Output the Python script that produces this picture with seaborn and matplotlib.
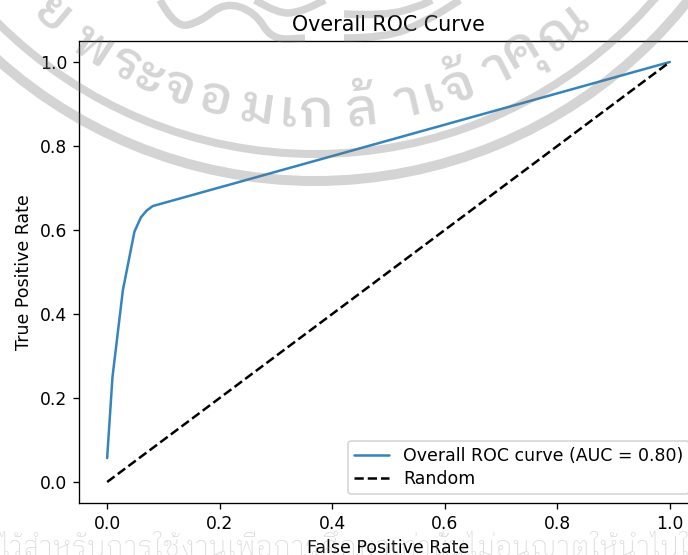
import matplotlib
matplotlib.use("Agg")
import matplotlib.pyplot as plt
from matplotlib.patches import Arc, PathPatch
from matplotlib.path import Path
import numpy as np
import pandas as pd
import seaborn as sns

# values
fpr = [0.0, 0.0095, 0.028, 0.0485, 0.06, 0.07, 0.081, 1.0]
tpr = [0.057, 0.25, 0.457, 0.596, 0.63, 0.646, 0.657, 1.0]
random_x = [0, 1]
random_y = [0, 1]
roc_label = "Overall ROC curve (AUC = 0.80)"
random_label = "Random"

# watermark text
seal_letters = ["ย", "พ", "ร", "ะ", "จ", "อ", "ม", "เ", "ก", "ล้", "า", "เ", "จ้", "า", "คุ", "ณ"]
seal_angles = [-40.3, -33, -27.9, -24, -19.6, -14.2, -8.1, -3.9, 0, 6.5, 13.1, 16.6, 20.6, 26.6, 30.8, 37.4]
footer_text = "ไว้สำหรับการใช้งานเพื่อการศึกษาเท่านั้นไม่อนุญาตให้นำไปใช้"
thai_fonts = ["IBM Plex Sans Thai Looped", "Sarabun", "DejaVu Sans"]

sns.set_style("ticks", {"axes.edgecolor": "black", "xtick.color": "black", "ytick.color": "black",
                        "text.color": "black", "axes.labelcolor": "black"})
plt.rcParams["font.family"] = ["DejaVu Sans"]

fig = plt.figure(figsize=(688 / 120, 555 / 120), dpi=120)
ax = fig.add_axes([79 / 688, 52 / 555, 619 / 688, 462 / 555])

roc = pd.DataFrame({"fpr": fpr, "tpr": tpr})
sns.lineplot(data=roc, x="fpr", y="tpr", color="tab:blue", alpha=0.9, label=roc_label, ax=ax,
             estimator=None, sort=False)
ax.plot(random_x, random_y, "k--", label=random_label)

ax.set_xlim(-0.05, 1.05)
ax.set_ylim(-0.05, 1.05)
ax.set_xlabel("False Positive Rate", fontsize=10.4)
ax.set_ylabel("True Positive Rate", fontsize=10.4)
ax.set_title("Overall ROC Curve", fontsize=12.4)
ax.tick_params(labelsize=10.3)
ax.legend(loc="lower right", fontsize=10.4, labelspacing=0.3, borderpad=0.35)

# watermark seal on top of everything, in pixel coordinates
wm = fig.add_axes([0, 0, 1, 1], facecolor="none")
wm.set_xlim(0, 688)
wm.set_ylim(555, 0)
wm.axis("off")
cx, cy = 315, -295
seal_style = dict(color="0.45", alpha=0.3)
for r, w in [(476, 10), (449, 8)]:
    wm.add_patch(Arc((cx, cy), 2 * r, 2 * r, lw=w * 0.6, **seal_style))
for letter, angle in zip(seal_letters, seal_angles):
    t = np.radians(angle)
    wm.text(cx + 408 * np.sin(t), cy + 408 * np.cos(t), letter, fontsize=32, weight="medium", rotation=angle,
            rotation_mode="anchor", ha="center", va="center", family=thai_fonts, **seal_style)

# ribbons of the emblem at the top
ribbons = [
    [(160, 0), (175, 28), (200, 22), (225, 2), (255, 12), (272, 40), (305, 38)],
    [(255, 0), (278, 14), (300, 12), (325, 0)],
    [(344, 38), (385, 38), (425, 22), (460, 0)],
    [(344, 14), (385, 16), (420, 6), (432, 0)],
]
for pts in ribbons:
    verts = [pts[0]]
    codes = [Path.MOVETO]
    for a, b in zip(pts[1:-1], pts[2:]):
        verts += [a, ((a[0] + b[0]) / 2, (a[1] + b[1]) / 2)]
        codes += [Path.CURVE3, Path.CURVE3]
    verts.append(pts[-1])
    codes.append(Path.LINETO)
    wm.add_patch(PathPatch(Path(verts, codes), fill=False, lw=4.5, edgecolor="0.45", alpha=0.3))

wm.text(0, 555, footer_text, fontsize=16.5, color="0.6", alpha=0.35, weight="light", ha="left",
        va="baseline", family=thai_fonts)

fig.savefig("out.png", dpi=120)
